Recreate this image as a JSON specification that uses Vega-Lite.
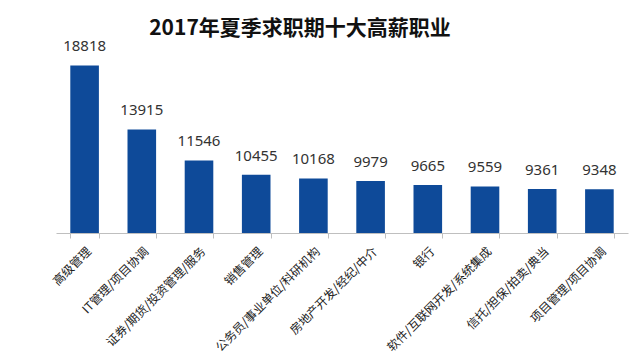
{
  "$schema": "https://vega.github.io/schema/vega-lite/v6.json",
  "width": 572,
  "height": 170,
  "autosize": {"type": "none"},
  "padding": {"left": 56, "top": 63, "right": 12, "bottom": 123},
  "background": "white",
  "title": {
    "text": "2017年夏季求职期十大高薪职业",
    "font": "Noto Sans CJK SC",
    "fontSize": 21,
    "fontWeight": "bold",
    "color": "#111111",
    "anchor": "middle",
    "dx": -42,
    "offset": 0
  },
  "config": {"view": {"stroke": null}},
  "data": {
    "values": [
      {"job": "高级管理", "salary": 18818},
      {"job": "IT管理/项目协调", "salary": 13915},
      {"job": "证券/期货/投资管理/服务", "salary": 11546},
      {"job": "销售管理", "salary": 10455},
      {"job": "公务员/事业单位/科研机构", "salary": 10168},
      {"job": "房地产开发/经纪/中介", "salary": 9979},
      {"job": "银行", "salary": 9665},
      {"job": "软件/互联网开发/系统集成", "salary": 9559},
      {"job": "信托/担保/拍卖/典当", "salary": 9361},
      {"job": "项目管理/项目协调", "salary": 9348}
    ]
  },
  "encoding": {
    "x": {
      "field": "job",
      "type": "nominal",
      "sort": null,
      "scale": {"paddingInner": 0.5, "paddingOuter": 0.25},
      "axis": {
        "title": null,
        "labelAngle": -45,
        "labelAlign": "right",
        "labelBaseline": "middle",
        "labelFont": "Noto Sans CJK SC",
        "labelFontSize": 12,
        "labelColor": "#222222",
        "labelPadding": 11,
        "labelOffset": 4,
        "labelLimit": 300,
        "tickBand": "extent",
        "tickSize": 5,
        "tickColor": "#bfbfbf",
        "domainColor": "#bfbfbf",
        "grid": false
      }
    },
    "y": {
      "field": "salary",
      "type": "quantitative",
      "scale": {"domain": [6000, 19000], "zero": false, "nice": false},
      "axis": null
    }
  },
  "layer": [
    {
      "mark": {"type": "bar", "color": "#0e4a99"},
      "encoding": {"y2": {"datum": 6000}}
    },
    {
      "mark": {
        "type": "text",
        "baseline": "bottom",
        "dy": -11,
        "font": "Noto Sans",
        "fontSize": 15,
        "color": "#333333"
      },
      "encoding": {"text": {"field": "salary", "type": "quantitative", "format": "d"}}
    }
  ]
}
